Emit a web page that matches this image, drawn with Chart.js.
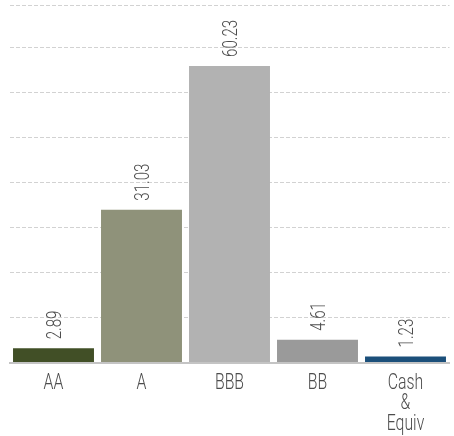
<!DOCTYPE html>
<html>
<head>
<meta charset="utf-8">
<script src="https://cdn.jsdelivr.net/npm/chart.js@4/dist/chart.umd.min.js"></script>
<style>
  html, body { margin: 0; padding: 0; background: #fff; }
  #wrap { width: 454px; height: 436px; position: relative; }
</style>
</head>
<body>
<div id="wrap"><canvas id="myBarChart"></canvas></div>
<script>
const categories = [['AA'], ['A'], ['BBB'], ['BB'], ['Cash', '&', 'Equiv']];
const values = [2.89, 31.03, 60.23, 4.61, 1.23];
const barColors = ['#414f26', '#8f927a', '#b2b2b2', '#9a9a9a', '#1b4f7a'];
const yMax = 72.6;
const yStep = 9.15;

const FONT = 'Roboto, "DejaVu Sans", sans-serif';
const SQUEEZE = 0.72;  // 글자를 가로로 좁게 (condensed 느낌)

// 막대 위 세로 값 + x축 라벨 그리기
const textPlugin = {
    id: 'textPlugin',
    afterDatasetsDraw(chart) {
        const ctx = chart.ctx;
        const meta = chart.getDatasetMeta(0);
        const xScale = chart.scales.x;
        ctx.save();
        ctx.fillStyle = '#4d4d4d';

        // 값 라벨 (세로)
        ctx.font = '300 21px ' + FONT;
        ctx.textAlign = 'left';
        ctx.textBaseline = 'middle';
        meta.data.forEach((bar, i) => {
            ctx.save();
            ctx.translate(bar.x + 2, bar.y - 9);
            ctx.rotate(-Math.PI / 2);
            ctx.scale(SQUEEZE, 1);
            ctx.fillText(values[i].toFixed(2), 0, 0);
            ctx.restore();
        });

        // x축 라벨 (여러 줄)
        ctx.font = '300 22px ' + FONT;
        ctx.textAlign = 'center';
        ctx.textBaseline = 'alphabetic';
        categories.forEach((lines, i) => {
            const x = xScale.getPixelForTick(i);
            lines.forEach((line, j) => {
                ctx.save();
                ctx.translate(x, chart.chartArea.bottom + 26 + j * 20.5);
                ctx.scale(SQUEEZE, 1);
                ctx.fillText(line, 0, 0);
                ctx.restore();
            });
        });
        ctx.restore();
    }
};

const barCtx = document.getElementById('myBarChart').getContext('2d');
new Chart(barCtx, {
    type: 'bar',
    data: {
        labels: categories,
        datasets: [{
            data: values,
            backgroundColor: barColors,
            borderWidth: 0,
            barPercentage: 0.92,
            categoryPercentage: 1
        }]
    },
    options: {
        responsive: true,
        maintainAspectRatio: false,
        animation: false,
        layout: { padding: { left: 9.5, right: 4.5, top: 5, bottom: 65.5 } },
        plugins: {
            legend: { display: false },
            tooltip: { enabled: false }
        },
        scales: {
            y: {
                min: 0,
                max: yMax,
                afterBuildTicks(axis) {
                    const t = [];
                    for (let v = 0; v < yMax - 1; v += yStep) t.push({ value: v });
                    t.push({ value: yMax });
                    axis.ticks = t;
                },
                ticks: { display: false },
                border: { display: false, dash: [4, 2] },
                grid: {
                    color: '#d2d2d2',
                    lineWidth: 1,
                    drawTicks: false
                },
                afterFit(axis) { axis.width = 0; }
            },
            x: {
                grid: { display: false },
                border: { color: '#c4c4c4', width: 2 },
                ticks: { display: false }
            }
        }
    },
    plugins: [textPlugin]
});
</script>
</body>
</html>
